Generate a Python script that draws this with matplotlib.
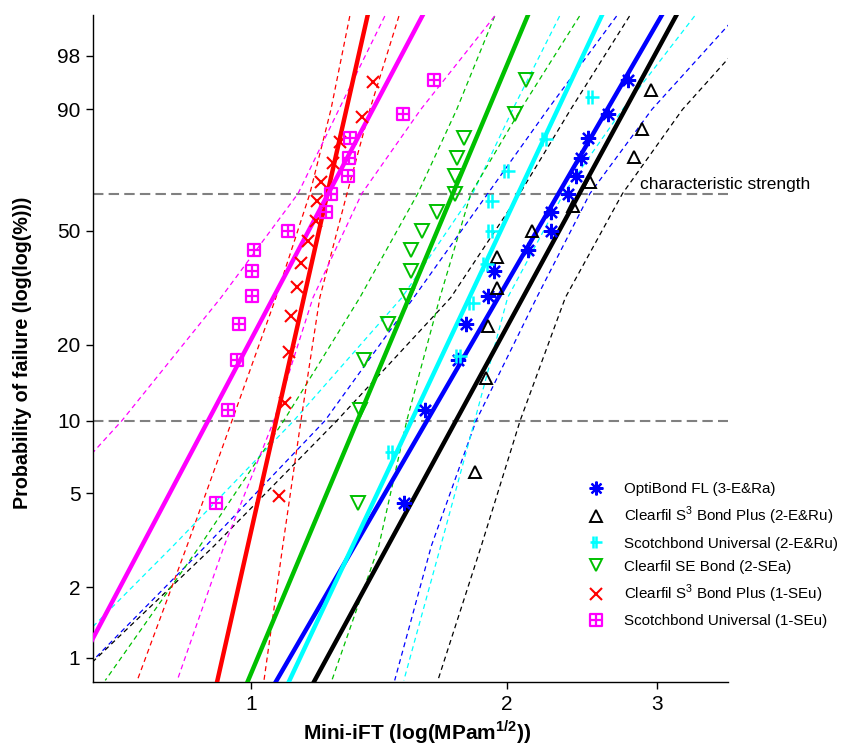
import numpy as np
import matplotlib
matplotlib.use('Agg')
import matplotlib.pyplot as plt
from matplotlib.path import Path
from matplotlib.lines import Line2D

plt.rcParams['font.family'] = ['Liberation Sans', 'DejaVu Sans']
plt.rcParams['mathtext.fontset'] = 'custom'
plt.rcParams['mathtext.rm'] = 'Liberation Sans'
plt.rcParams['mathtext.bf'] = 'Liberation Sans:bold'

# ---------------- data ----------------
labels = ['OptiBond FL (3-E&Ra)',
          'Clearfil S$^{\\mathregular{3}}$ Bond Plus (2-E&Ru)',
          'Scotchbond Universal (2-E&Ru)',
          'Clearfil SE Bond (2-SEa)',
          'Clearfil S$^{\\mathregular{3}}$ Bond Plus (1-SEu)',
          'Scotchbond Universal (1-SEu)']
colors = ['#0000ff', '#000000', '#00ffff', '#00c000', '#ff0000', '#ff00ff']

# strength values (MPa m^1/2) and median-rank failure probabilities (%)
optibond_x = [1.513, 1.601, 1.751, 1.789, 1.899, 1.930, 2.116, 2.252, 2.252,
              2.358, 2.409, 2.442, 2.489, 2.627, 2.773]
optibond_p = [4.55, 11.04, 17.53, 24.03, 30.52, 37.01, 43.51, 50.0, 56.49,
              62.99, 69.48, 75.97, 82.47, 88.96, 95.45]
s3_er_x = [1.833, 1.889, 1.899, 1.946, 1.946, 2.139, 2.390, 2.502, 2.819, 2.880, 2.952]
s3_er_p = [6.14, 14.91, 23.68, 32.46, 41.23, 50.0, 58.77, 67.54, 76.32, 85.09, 93.86]
sbu_er_x = [1.465, 1.760, 1.823, 1.894, 1.920, 1.920, 2.005, 2.222, 2.516]
sbu_er_p = [7.45, 18.09, 28.72, 39.36, 50.0, 60.64, 71.28, 81.91, 92.55]
se_x = [1.336, 1.343, 1.358, 1.449, 1.525, 1.542, 1.542, 1.588, 1.654, 1.737,
        1.737, 1.746, 1.780, 2.043, 2.105]
se_p = [4.55, 11.04, 17.53, 24.03, 30.52, 37.01, 43.51, 50.0, 56.49,
        62.99, 69.48, 75.97, 82.47, 88.96, 95.45]
s3_se_x = [1.079, 1.096, 1.108, 1.114, 1.133, 1.145, 1.167, 1.192, 1.196, 1.209,
           1.248, 1.272, 1.350, 1.391]
s3_se_p = [4.86, 11.81, 18.75, 25.69, 32.64, 39.58, 46.53, 53.47, 60.42, 67.36,
           74.31, 81.25, 88.19, 95.14]
sbu_se_x = [0.910, 0.940, 0.963, 0.968, 1.003, 1.003, 1.008, 1.105, 1.225, 1.242,
            1.300, 1.304, 1.307, 1.509, 1.641]
sbu_se_p = [4.55, 11.04, 17.53, 24.03, 30.52, 37.01, 43.51, 50.0, 56.49,
            62.99, 69.48, 75.97, 82.47, 88.96, 95.45]

# Weibull fits: modulus m and characteristic strength s0
weibull_m = [6.32, 6.73, 7.79, 8.70, 16.2, 6.915]
weibull_s0 = [2.300, 2.434, 2.062, 1.728, 1.230, 1.233]

# confidence bounds: strength at these failure probabilities (%)
bound_p = [99.7, 90, 63.2, 30, 10, 3, 0.8]
optibond_lo = [2.692, 2.234, 1.899, 1.554, 1.222, 0.885, 0.618]
optibond_hi = [3.725, 2.962, 2.504, 2.168, 1.840, 1.630, 1.476]
s3_er_lo = [2.788, 2.377, 2.071, 1.718, 1.262, 0.905, 0.618]
s3_er_hi = [4.039, 3.218, 2.735, 2.343, 2.073, 1.866, 1.659]
sbu_er_lo = [2.307, 2.032, 1.823, 1.505, 1.123, 0.810, 0.564]
sbu_er_hi = [3.325, 2.736, 2.332, 2.004, 1.833, 1.672, 1.513]
se_lo = [1.935, 1.746, 1.571, 1.343, 1.093, 0.871, 0.674]
se_hi = [2.435, 2.076, 1.814, 1.668, 1.525, 1.414, 1.245]
s3_se_lo = [1.307, 1.242, 1.173, 1.070, 0.950, 0.841, 0.735]
s3_se_hi = [1.493, 1.380, 1.297, 1.205, 1.145, 1.090, 1.036]
sbu_se_lo = [1.437, 1.269, 1.136, 0.922, 0.705, 0.518, 0.369]
sbu_se_hi = [1.935, 1.584, 1.350, 1.183, 1.064, 0.930, 0.819]

yticks_pct = [1, 2, 5, 10, 20, 50, 90, 98]

# ---------------- helpers ----------------
def weib(p_pct):
    p = np.asarray(p_pct, dtype=float) / 100.0
    return np.log(-np.log(1.0 - p))

xs_all = [optibond_x, s3_er_x, sbu_er_x, se_x, s3_se_x, sbu_se_x]
ps_all = [optibond_p, s3_er_p, sbu_er_p, se_p, s3_se_p, sbu_se_p]
lo_all = [optibond_lo, s3_er_lo, sbu_er_lo, se_lo, s3_se_lo, sbu_se_lo]
hi_all = [optibond_hi, s3_er_hi, sbu_er_hi, se_hi, s3_se_hi, sbu_se_hi]

# markers
sq = Path([(-1, -1), (1, -1), (1, 1), (-1, 1), (-1, -1), (0, -1), (0, 1), (-1, 0), (1, 0)],
          [Path.MOVETO, Path.LINETO, Path.LINETO, Path.LINETO, Path.CLOSEPOLY,
           Path.MOVETO, Path.LINETO, Path.MOVETO, Path.LINETO])
dbar = Path([(-1, 0), (1, 0), (-0.55, -1), (-0.55, 1), (0.05, -1), (0.05, 1)],
            [Path.MOVETO, Path.LINETO, Path.MOVETO, Path.LINETO, Path.MOVETO, Path.LINETO])
markers = [(8, 2, 0), '^', dbar, 'v', 'x', sq]
msizes = [11, 9, 10, 9.5, 9, 9]
mews = [1.6, 1.4, 1.8, 1.4, 1.5, 1.6]

# ---------------- figure ----------------
fig = plt.figure(figsize=(8.45, 7.46), dpi=100)
ax = fig.add_axes([93 / 845, 1 - 682 / 746, (728 - 93) / 845, (682 - 15) / 746])

ylo, yhi = -4.840, 1.770
xlo, xhi = 0.652, 3.64
ax.set_xscale('log')
ax.set_xlim(xlo, xhi)
ax.set_ylim(ylo, yhi)

# reference lines
ax.axhline(0.0, color='#808080', lw=1.5, ls=(0, (5, 2.5)), zorder=1)
ax.axhline(weib(10), color='#808080', lw=1.5, ls=(0, (5, 2.5)), zorder=1)

# confidence bounds
for lo, hi, c in zip(lo_all, hi_all, colors):
    ax.plot(lo, weib(bound_p), color=c, lw=0.9, ls=(0, (4, 3)), zorder=2)
    ax.plot(hi, weib(bound_p), color=c, lw=0.9, ls=(0, (4, 3)), zorder=2)

# fitted lines
yg = np.array([ylo - 0.2, yhi + 0.2])
for m, s0, c in zip(weibull_m, weibull_s0, colors):
    ax.plot(s0 * np.exp(yg / m), yg, color=c, lw=3.2, solid_capstyle='butt', zorder=3)

# data points
handles = []
for x, p, c, mk, ms, mw, lab in zip(xs_all, ps_all, colors, markers, msizes, mews, labels):
    ax.plot(x, weib(p), ls='none', marker=mk, ms=ms, mew=mw, mec=c, mfc='none', zorder=4)
    handles.append(Line2D([], [], ls='none', marker=mk, ms=ms * 0.9, mew=mw, mec=c,
                          mfc='none', label=lab))

ax.text(0.8614, 0.739, 'characteristic strength', transform=ax.transAxes,
        fontsize=12.5, va='baseline', ha='left')

# axes styling
for s in ['top', 'right']:
    ax.spines[s].set_visible(False)
for s in ['left', 'bottom']:
    ax.spines[s].set_linewidth(1.0)
ax.set_yticks(weib(yticks_pct))
ax.set_yticklabels([str(v) for v in yticks_pct])
ax.set_xticks([1, 2, 3])
ax.set_xticklabels(['1', '2', '3'])
ax.xaxis.set_minor_locator(matplotlib.ticker.NullLocator())
ax.tick_params(direction='out', length=5, width=1.0, labelsize=15, pad=4)

fig.text(23 / 845, 1 - 353 / 746, 'Probability of failure (log(log(%)))', rotation=90,
         ha='center', va='center', fontsize=14.2, fontweight='bold')
fig.text(417 / 845, 1 - 732 / 746, 'Mini-iFT (log(MPam$^{\\mathregular{1/2}}$))',
         ha='center', va='center', fontsize=15, fontweight='bold')

leg = ax.legend(handles=handles, loc='upper left', bbox_to_anchor=(580 / 845, 1 - 476 / 746),
                bbox_transform=fig.transFigure, frameon=False, fontsize=10.9,
                handlelength=1.25, handletextpad=1.25, labelspacing=0.6, borderaxespad=0)

fig.savefig('out.png', dpi=100)
